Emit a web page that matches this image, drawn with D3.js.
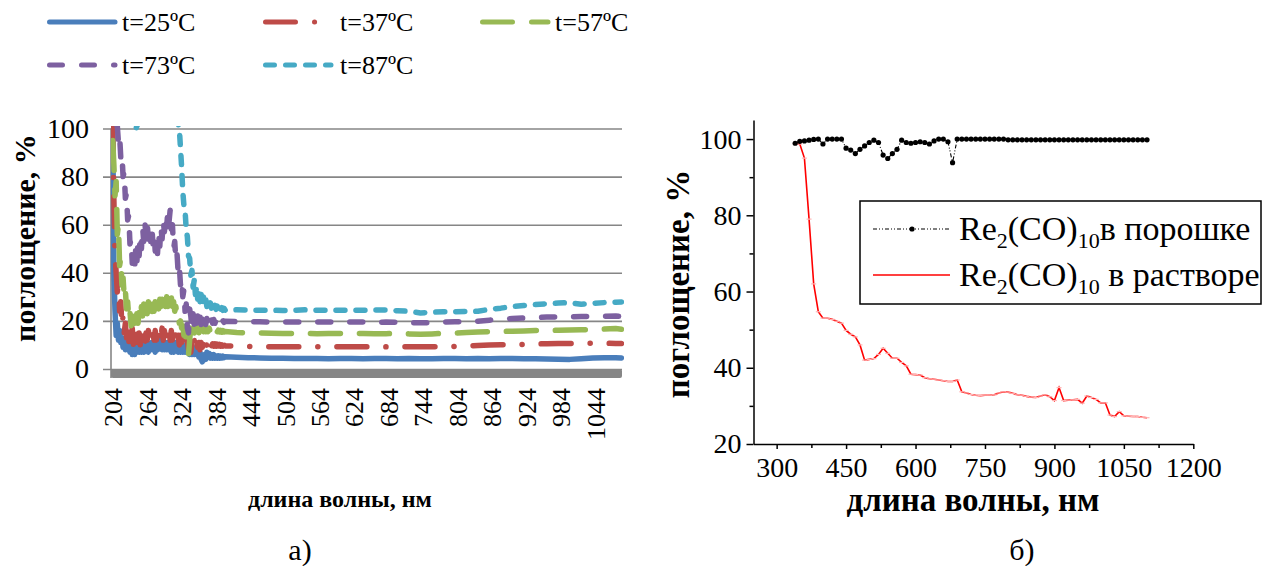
<!DOCTYPE html>
<html>
<head>
<meta charset="utf-8">
<script src="https://cdn.jsdelivr.net/npm/d3@7"></script>
<style>
body { margin: 0; background: #fff; }
svg text { font-family: "Liberation Serif", "Times New Roman", serif; fill: #000; }
</style>
</head>
<body>
<svg id="fig" width="1263" height="566"></svg>
<script>
// ---------- panel a): absorption vs wavelength at 5 temperatures ----------
const wlA = [204, 206, 208, 210, 212, 214, 216, 218, 220, 222, 224, 226, 228, 230, 232, 234, 236, 238, 240, 242,
    244, 246, 248, 250, 252, 254, 256, 258, 260, 262, 264, 266, 268, 270, 272, 274, 276, 278, 280, 282,
    284, 286, 288, 290, 292, 294, 296, 298, 300, 302, 304, 306, 308, 310, 312, 314, 316, 318, 320, 322,
    324, 326, 328, 330, 332, 334, 336, 338, 340, 342, 344, 346, 348, 350, 352, 354, 356, 358, 360, 362,
    364, 366, 368, 370, 372, 374, 376, 378, 380, 382, 384, 386, 388, 390, 392, 394, 396, 398, 400,
    420, 440, 460, 480, 500, 520, 540, 560, 580, 600, 620, 640, 660, 680, 700, 720, 740, 760, 780, 800,
    820, 840, 860, 880, 900, 920, 940, 960, 980, 1000, 1020, 1040, 1060, 1080, 1090];

const t25 = [104, 40, 24, 14, 19, 12, 16, 11, 13, 9, 12, 8, 12, 8, 11, 7, 11, 6, 9, 6,
    10, 7, 10, 7, 11, 7, 10, 7, 11, 8, 11, 7, 10, 8, 11, 8, 11, 7, 10, 8,
    11, 9, 12, 8, 11, 8, 11, 8, 11, 8, 11, 7, 10, 7, 11, 8, 10, 7, 10, 7,
    10, 7, 10, 7, 10, 7, 9, 6, 9, 6, 9, 6, 8, 6, 8, 5, 7, 4, 3, 5,
    6, 4, 7, 5, 6.5, 4.5, 6, 4.5, 6, 4.5, 5.5, 4.5, 5.5, 4.5, 5.3, 4.6, 5.3, 4.7, 5.1,
    4.9, 4.7, 4.6, 4.5, 4.5, 4.4, 4.4, 4.4, 4.3, 4.4, 4.4, 4.3, 4.4, 4.4, 4.3, 4.4, 4.3, 4.3, 4.4, 4.4,
    4.3, 4.4, 4.3, 4.4, 4.4, 4.3, 4.3, 4.2, 4.1, 4.0, 4.3, 4.6, 4.7, 4.7, 4.6];

const t37 = [100, 70, 48, 40, 32, 38, 24, 28, 18, 22, 15, 19, 13, 17, 11, 16, 12, 17, 10, 15,
    11, 16, 11, 15, 10, 14, 12, 16, 11, 15, 12, 16, 13, 17, 11, 15, 12, 16, 12, 15,
    11, 16, 13, 17, 12, 16, 12, 16, 13, 17, 12, 16, 12, 15, 11, 15, 11, 14, 10, 14,
    11, 14, 10, 13, 9, 12, 8, 10, 7, 11, 8, 12, 9, 12, 9, 11, 8, 11, 9, 12,
    10, 12, 9, 11, 9.5, 11, 9.5, 10.5, 9.5, 10.5, 9.5, 10.3, 9.6, 10.2, 9.5, 10, 9.5, 9.9, 9.6,
    9.5, 9.4, 9.3, 9.3, 9.3, 9.2, 9.3, 9.3, 9.2, 9.3, 9.3, 9.2, 9.3, 9.2, 9.2, 9.3, 9.2, 9.3, 9.3, 9.4,
    9.6, 9.8, 10, 10.1, 10.1, 10.2, 10.4, 10.5, 10.6, 10.6, 10.7, 10.7, 10.7, 10.6, 10.6];

const t57 = [95, 85, 72, 78, 56, 60, 43, 46, 35, 38, 30, 33, 25, 28, 21, 24, 18, 22, 17, 21,
    19, 23, 19, 24, 21, 26, 22, 27, 23, 27, 23, 28, 24, 28, 23, 27, 24, 28, 23, 27,
    25, 29, 26, 29, 25, 29, 26, 30, 26, 30, 27, 30, 26, 28, 24, 26, 22, 23, 19, 20,
    17, 18, 14, 15, 11, 9, 6, 12, 17, 14, 18, 15, 19, 16, 18, 15, 18, 15, 17.5, 15.5,
    17.5, 15.5, 17, 15.5, 17, 15.5, 16.8, 15.5, 16.5, 15.5, 16.3, 15.4, 16.2, 15.4, 16, 15.3, 15.9, 15.4, 15.6,
    15.2, 15, 15, 14.9, 14.8, 14.8, 14.8, 14.7, 14.8, 14.8, 14.7, 14.8, 14.7, 14.7, 14.8, 14.6, 14.5, 14.6, 14.8, 14.9,
    15.2, 15.4, 15.5, 15.6, 15.7, 15.8, 16.0, 16.0, 16.1, 16.2, 16.3, 16.4, 16.6, 16.8, 16.5];

const t73 = [106, 103, 104, 98, 101, 94, 97, 88, 90, 80, 82, 71, 73, 62, 64, 52, 54, 44, 46, 41,
    50, 44, 53, 47, 56, 50, 59, 53, 61, 55, 61, 54, 59, 53, 60, 52, 57, 49, 55, 48,
    56, 51, 59, 54, 62, 57, 64, 59, 66, 61, 66, 58, 60, 50, 53, 45, 48, 40, 43, 35,
    38, 30, 33, 24, 27, 17, 15, 25, 22, 17, 23, 18, 23, 19, 22, 18, 22, 18.5, 21.5, 18.5,
    21.5, 18.5, 21, 18.8, 21, 19, 20.8, 19, 20.6, 19, 20.5, 19.2, 20.3, 19.2, 20.2, 19.3, 20.1, 19.4, 19.9,
    19.7, 19.6, 19.6, 19.5, 19.6, 19.5, 19.6, 19.5, 19.5, 19.6, 19.5, 19.5, 19.4, 19.5, 19.4, 19.3, 19.2, 19.3, 19.5, 19.6,
    19.7, 19.9, 20.3, 20.7, 21, 21.2, 21.4, 21.6, 21.7, 21.7, 21.8, 21.8, 21.9, 22, 21.8];

const t87 = [130, 127, 125, 122, 120, 119, 118, 116, 115, 113, 112, 110, 108, 106, 105, 103, 102, 101, 100.5, 100,
    99.5, 101, 102, 104, 106, 108, 110, 112, 114, 115, 116, 117, 118, 117, 116, 117, 118, 119, 120, 119,
    118, 120, 121, 122, 122, 121, 120, 119, 118, 117, 116, 114, 112, 110, 108, 106, 104, 102, 100, 92,
    84, 74, 68, 66, 58, 55, 47, 46, 39, 41, 34, 37, 31, 34, 29, 32, 28, 31, 27, 30,
    26.5, 29, 26, 28, 25.5, 27.5, 25.3, 27, 25, 26.5, 24.8, 26.2, 24.6, 25.8, 24.5, 25.5, 24.4, 25.2, 24.4,
    24.6, 24.5, 24.4, 24.5, 24.3, 24.4, 24.6, 24.4, 24.5, 24.4, 24.5, 24.4, 24.5, 24.5, 24.2, 24.0, 23.3, 23.6, 23.8, 23.8,
    23.9, 24.0, 24.8, 25.3, 26, 26.4, 26.8, 27.1, 27.4, 27.6, 26.9, 27.3, 27.6, 27.8, 27.9];

const seriesA = ['t=25\u00BAC', 't=37\u00BAC', 't=57\u00BAC', 't=73\u00BAC', 't=87\u00BAC'];
const yTicksA = [0, 20, 40, 60, 80, 100];
const xLabelsA = [204, 264, 324, 384, 444, 504, 564, 624, 684, 744, 804, 864, 924, 984, 1044];

// ---------- panel б): Re2(CO)10 powder vs solution ----------
const wlB = [340, 350, 360, 370, 380, 390, 400, 410, 420, 430, 440, 450, 460, 470, 480, 490, 500, 510, 520, 530,
    540, 550, 560, 570, 580, 590, 600, 610, 620, 630, 640, 650, 660, 670, 680, 690, 700, 710, 720, 730,
    740, 750, 760, 770, 780, 790, 800, 810, 820, 830, 840, 850, 860, 870, 880, 890, 900, 910, 920, 930,
    940, 950, 960, 970, 980, 990, 1000, 1010, 1020, 1030, 1040, 1050, 1060, 1070, 1080, 1090, 1100];

const powder = [98.9, 99.4, 99.5, 99.7, 99.9, 100, 98.7, 100, 100, 100, 100, 97.6, 97.1, 96.2, 97.3, 98.2, 99.1, 99.7, 99.1, 95.8,
    94.9, 96.2, 97.3, 99.7, 99.1, 98.9, 99.1, 99.3, 99.1, 98.7, 99.5, 100, 100, 99.3, 93.8, 100, 100, 100, 100, 100,
    100, 100, 100, 100, 100, 100, 99.8, 99.8, 99.8, 99.8, 99.8, 99.8, 99.8, 99.8, 99.8, 99.8, 99.8, 99.8, 99.8, 99.8,
    99.8, 99.8, 99.8, 99.8, 99.8, 99.8, 99.8, 99.8, 99.8, 99.8, 99.8, 99.8, 99.8, 99.8, 99.8, 99.8, 99.8];

const solution = [98.9, 98.7, 95, 79, 62, 54.7, 53, 53, 52.7, 52.2, 51.7, 49.8, 48.8, 48.1, 46, 42, 42.2, 42.4, 43.5, 45.1,
    43.8, 42.5, 42.5, 41.4, 40.5, 38.3, 38.2, 38.1, 37.4, 37.1, 37, 36.8, 36.6, 36.4, 36.4, 36.8, 33.7, 33.4, 33, 32.8,
    32.7, 32.8, 32.8, 32.9, 33.4, 33.7, 33.6, 33.3, 32.9, 32.8, 32.5, 32.3, 32.2, 32.6, 32.9, 32.4, 31.4, 34.8, 31.4, 31.5,
    31.6, 31.7, 30.7, 32.6, 32.2, 31.7, 30.8, 30.8, 27.6, 27.2, 28.5, 27.4, 27.3, 27.2, 27.2, 27, 26.9];

const yTicksB = [20, 40, 60, 80, 100];
const yMinorB = [30, 50, 70, 90];
const xTicksB = [300, 450, 600, 750, 900, 1050, 1200];
const xMinorB = [375, 525, 675, 825, 975, 1125];

const serif = '"Liberation Serif", "Times New Roman", serif';
const svg = d3.select('#fig');

// ================= panel a =================
const colorsA = ['#4A7EBB', '#BE4B48', '#98B954', '#7D60A0', '#46AAC5'];
const dashA = [null, '30,19,0.1,19', '30,19', '13,19', '9,11'];
const valuesA = [t25, t37, t57, t73, t87];

const xA = d3.scaleLinear().domain([201, 1091]).range([111, 622]);
const yA = d3.scaleLinear().domain([0, 100]).range([369, 128.5]);

const gA = svg.append('g');

// gridlines + y labels
const yAxisA = d3.axisLeft(yA)
    .tickValues(yTicksA)
    .tickSizeInner(-(622 - 111))
    .tickSizeOuter(0)
    .tickPadding(22);

gA.append('g')
    .attr('transform', 'translate(111,0)')
    .call(yAxisA)
    .call(g => g.select('.domain').remove())
    .call(g => g.selectAll('.tick line').attr('x1', -8).attr('stroke', '#868686').attr('stroke-width', 1.6))
    .call(g => g.selectAll('.tick text').attr('font-size', 28).style('font-family', serif));

// floor of the plot
gA.append('rect')
    .attr('x', 111).attr('y', 369)
    .attr('width', 511).attr('height', 9)
    .attr('rx', 2)
    .attr('fill', '#868686');

gA.append('line')
    .attr('x1', 111).attr('x2', 111)
    .attr('y1', 128.5).attr('y2', 378)
    .attr('stroke', '#868686').attr('stroke-width', 1.6);

// rotated category labels
gA.append('g')
    .attr('transform', 'translate(0,378)')
    .call(d3.axisBottom(xA).tickValues(xLabelsA).tickSize(0).tickFormat(d3.format('d')))
    .call(g => g.select('.domain').remove())
    .call(g => g.selectAll('.tick text')
        .attr('font-size', 26)
        .style('font-family', serif)
        .attr('transform', 'rotate(-90)')
        .attr('x', -10).attr('y', 0)
        .attr('dy', '0.35em')
        .style('text-anchor', 'end'));

// clip for series
svg.append('defs').append('clipPath').attr('id', 'clipA')
    .append('rect').attr('x', 111).attr('y', 126).attr('width', 513).attr('height', 246);

const lineA = d3.line()
    .x((d, i) => xA(wlA[i]))
    .y(d => yA(d));

gA.append('g')
    .attr('clip-path', 'url(#clipA)')
    .selectAll('path')
    .data(valuesA)
    .join('path')
    .attr('d', lineA)
    .attr('fill', 'none')
    .attr('stroke', (d, i) => colorsA[i])
    .attr('stroke-width', 5.5)
    .attr('stroke-linecap', 'round')
    .attr('stroke-linejoin', 'round')
    .attr('stroke-dasharray', (d, i) => dashA[i]);

// axis titles
gA.append('text')
    .attr('transform', 'translate(35,238) rotate(-90)')
    .attr('text-anchor', 'middle')
    .attr('font-size', 30)
    .attr('font-weight', 'bold')
    .text('поглощение, %');

gA.append('text')
    .attr('x', 340).attr('y', 507)
    .attr('text-anchor', 'middle')
    .attr('font-size', 24)
    .attr('font-weight', 'bold')
    .text('длина волны, нм');

// legend of panel a
const legPos = [[47, 22], [263, 22], [480, 22], [47, 65], [263, 65]];
const legA = gA.append('g')
    .selectAll('g')
    .data(seriesA)
    .join('g')
    .attr('transform', (d, i) => `translate(${legPos[i][0]},${legPos[i][1]})`);

legA.append('line')
    .attr('x1', 2.5).attr('x2', 68)
    .attr('stroke', (d, i) => colorsA[i])
    .attr('stroke-width', 5)
    .attr('stroke-linecap', 'round')
    .attr('stroke-dasharray', (d, i) => dashA[i]);

legA.append('text')
    .attr('x', (d, i) => (i == 1 || i == 4) ? 77 : 75)
    .attr('y', 9)
    .attr('font-size', 26)
    .text(d => d);

// ================= panel б =================
const xB = d3.scaleLinear().domain([250, 1200]).range([753.5, 1193.3]);
const yB = d3.scaleLinear().domain([20, 105]).range([444, 120]);

const gB = svg.append('g');

gB.append('g')
    .attr('transform', 'translate(753.5,0)')
    .call(d3.axisLeft(yB).tickValues(yMinorB).tickSize(4).tickFormat(''))
    .call(g => g.select('.domain').remove())
    .call(g => g.selectAll('.tick line').attr('stroke-width', 1.5));

gB.append('g')
    .attr('transform', 'translate(753.5,0)')
    .call(d3.axisLeft(yB).tickValues(yTicksB).tickSizeInner(7).tickSizeOuter(0).tickPadding(5))
    .call(g => g.select('.domain').attr('stroke-width', 1.5))
    .call(g => g.selectAll('.tick line').attr('stroke-width', 1.5))
    .call(g => g.selectAll('.tick text').attr('font-size', 28).style('font-family', serif));

gB.append('g')
    .attr('transform', 'translate(0,444)')
    .call(d3.axisBottom(xB).tickValues(xMinorB).tickSize(4).tickFormat(''))
    .call(g => g.select('.domain').remove())
    .call(g => g.selectAll('.tick line').attr('stroke-width', 1.5));

gB.append('g')
    .attr('transform', 'translate(0,444)')
    .call(d3.axisBottom(xB).tickValues(xTicksB).tickSizeInner(5).tickSizeOuter(0).tickPadding(8)
        .tickFormat(d3.format('d')))
    .call(g => g.select('.domain').attr('stroke-width', 1.5))
    .call(g => g.selectAll('.tick line').attr('stroke-width', 1.5))
    .call(g => g.selectAll('.tick text').attr('font-size', 28).style('font-family', serif));

const lineB = d3.line()
    .x((d, i) => xB(wlB[i]))
    .y(d => yB(d));

// solution (red)
gB.append('path')
    .datum(solution)
    .attr('d', lineB)
    .attr('fill', 'none')
    .attr('stroke', '#FF0000')
    .attr('stroke-width', 1.6);

gB.append('g')
    .selectAll('line')
    .data(solution)
    .join('line')
    .attr('x1', (d, i) => xB(wlB[i]) - 2.5)
    .attr('x2', (d, i) => xB(wlB[i]) + 2.5)
    .attr('y1', d => yB(d))
    .attr('y2', d => yB(d))
    .attr('stroke', '#FFB4B4')
    .attr('stroke-width', 1.2);

// powder (black)
gB.append('path')
    .datum(powder)
    .attr('d', lineB)
    .attr('fill', 'none')
    .attr('stroke', '#000')
    .attr('stroke-width', 1.1)
    .attr('stroke-dasharray', '4,2,1,2,1,2');

gB.append('g')
    .selectAll('circle')
    .data(powder)
    .join('circle')
    .attr('cx', (d, i) => xB(wlB[i]))
    .attr('cy', d => yB(d))
    .attr('r', 2.6)
    .attr('fill', '#000');

// axis titles
gB.append('text')
    .attr('transform', 'translate(689,284) rotate(-90)')
    .attr('text-anchor', 'middle')
    .attr('font-size', 33)
    .attr('font-weight', 'bold')
    .text('поглощение, %');

gB.append('text')
    .attr('x', 973).attr('y', 511)
    .attr('text-anchor', 'middle')
    .attr('font-size', 33)
    .attr('font-weight', 'bold')
    .text('длина волны, нм');

// legend of panel б
const legB = gB.append('g');
legB.append('rect')
    .attr('x', 860).attr('y', 201)
    .attr('width', 401).attr('height', 103)
    .attr('fill', '#fff')
    .attr('stroke', '#000')
    .attr('stroke-width', 1.5);

legB.append('line')
    .attr('x1', 873).attr('x2', 950).attr('y1', 229).attr('y2', 229)
    .attr('stroke', '#000').attr('stroke-width', 1.1)
    .attr('stroke-dasharray', '4,2,1,2,1,2');
legB.append('circle').attr('cx', 912).attr('cy', 229).attr('r', 2.6).attr('fill', '#000');

legB.append('line')
    .attr('x1', 873).attr('x2', 950).attr('y1', 275).attr('y2', 275)
    .attr('stroke', '#FF0000').attr('stroke-width', 1.6);

function formula(sel, tail) {
    sel.append('tspan').text('Re');
    sel.append('tspan').attr('font-size', 22).attr('dy', 8).text('2');
    sel.append('tspan').attr('dy', -8).text('(CO)');
    sel.append('tspan').attr('font-size', 22).attr('dy', 8).text('10');
    sel.append('tspan').attr('dy', -8).text(tail);
}

legB.append('text').attr('x', 959).attr('y', 240).attr('font-size', 34)
    .call(formula, 'в порошке');
legB.append('text').attr('x', 959).attr('y', 286).attr('font-size', 34)
    .call(formula, ' в растворе');

// panel captions
svg.append('text').attr('x', 300).attr('y', 560).attr('text-anchor', 'middle').attr('font-size', 30).text('а)');
svg.append('text').attr('x', 1022).attr('y', 560).attr('text-anchor', 'middle').attr('font-size', 30).text('б)');
</script>
</body>
</html>
